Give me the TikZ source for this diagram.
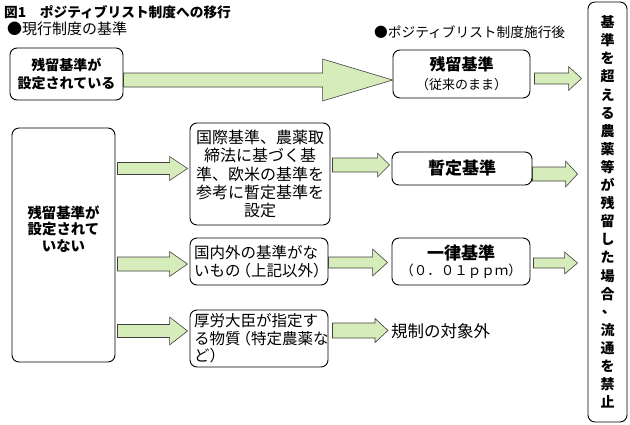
\documentclass[tikz,border=0pt]{standalone}
\usepackage{fontspec}
\setmainfont{Noto Sans CJK JP}
\usetikzlibrary{calc}
\definecolor{arrowgreen}{RGB}{214,236,186}
\newcommand\blockarr[5]{\draw[blockarrow] let \p1=(#1), \p2=(#2) in (\x1,\y1+#3) -- (\x2-#5,\y1+#3) -- (\x2-#5,\y1+#4) -- (\x2,\y1) -- (\x2-#5,\y1-#4) -- (\x2-#5,\y1-#3) -- (\x1,\y1-#3) -- cycle;}
\newcommand\LP{\kern-5pt（}
\newcommand\RP{）\kern-5pt}
\newcommand\SLP{\kern-3pt（}
\newcommand\SRP{）\kern-3pt}
\begin{document}
\begin{tikzpicture}[x=1pt,y=-1pt,
  box/.style={draw, line width=0.9pt, rounded corners=7pt, inner sep=0pt, align=center},
  plain/.style={inner sep=0pt},
  blockarrow/.style={fill=arrowgreen, draw=black!75, line width=0.6pt, line join=miter}]
\useasboundingbox (0,0) rectangle (630,424);
% headings
\node[plain, anchor=west, font=\bfseries\fontsize{13.7pt}{16pt}\selectfont] (title) at (4,12) {図1　ポジティブリスト制度への移行};
\node[plain, anchor=west, font=\fontsize{15pt}{17pt}\selectfont] (cur) at (7,29) {●現行制度の基準};
\node[plain, anchor=west, font=\fontsize{13.7pt}{16pt}\selectfont] (post) at (374,32) {●ポジティブリスト制度施行後};
% boxes
\node[box, minimum width=113pt, minimum height=52pt, font=\bfseries\fontsize{14pt}{18pt}\selectfont] (B1) at (66.5,74) {残留基準が\\設定されている};
\node[box, minimum width=137pt, minimum height=48pt, font=\fontsize{14pt}{19pt}\selectfont] (R1) at (461.5,74) {{\fontsize{16pt}{19pt}\selectfont\bfseries 残留基準}\\{\fontsize{13pt}{19pt}\selectfont \SLP 従来のまま\SRP}};
\node[box, minimum width=103pt, minimum height=234pt] (L) at (63.5,245) {};
\node[plain, align=center, font=\bfseries\fontsize{14.4pt}{16.3pt}\selectfont] (Ltext) at ($(L.center)+(0,-16)$) {残留基準が\\設定されて\\いない};
\node[box, minimum width=140pt, minimum height=102pt, font=\fontsize{16pt}{18.3pt}\selectfont] (A) at (260,174) {国際基準、農薬取\\締法に基づく基\\準、欧米の基準を\\参考に暫定基準を\\設定};
\node[box, minimum width=140pt, minimum height=33pt, font=\bfseries\fontsize{17pt}{20pt}\selectfont] (S) at (462,168.5) {暫定基準};
\node[box, minimum width=138pt, minimum height=47pt, align=left, text width=130pt, font=\fontsize{15.5pt}{18pt}\selectfont] (B) at (259,261.5) {国内外の基準がな\\いもの\LP 上記以外\RP};
\node[box, minimum width=138pt, minimum height=47pt, font=\fontsize{13.5pt}{16pt}\selectfont] (U) at (461,261.5) {{\fontsize{17pt}{16pt}\selectfont\bfseries 一律基準}\\（０．０１ｐｐｍ）};
\node[box, minimum width=138pt, minimum height=57pt, align=left, text width=130pt, font=\fontsize{15.5pt}{17.5pt}\selectfont] (C) at (259,338.5) {厚労大臣が指定す\\る物質\LP 特定農薬な\\ど\RP};
\node[plain, anchor=west, font=\fontsize{16.5pt}{18pt}\selectfont] (out) at (391,331) {規制の対象外};
\node[box, minimum width=39pt, minimum height=420pt, font=\bfseries\fontsize{14pt}{18.1pt}\selectfont] (RB) at (607.5,212) {基\\準\\を\\超\\え\\る\\農\\薬\\等\\が\\残\\留\\し\\た\\場\\合\\\raisebox{0.3em}{\kern0.2em、}\\流\\通\\を\\禁\\止};
% block arrows
\blockarr{$(B1.east)+(0,6)$}{R1.west}{7pt}{21pt}{70pt}
\blockarr{$(R1.east)+(4,4.5)$}{$(RB.west)+(-6,0)$}{5.5pt}{12pt}{13pt}
\blockarr{$(L.east)+(2,-76.5)$}{$(A.west)+(-2,0)$}{6pt}{12pt}{18pt}
\blockarr{$(A.east)+(2,-9)$}{$(S.west)+(-2,0)$}{7pt}{12pt}{12pt}
\blockarr{$(S.east)+(0,5.5)$}{$(RB.west)+(-10,0)$}{7pt}{13pt}{12pt}
\blockarr{$(L.east)+(2,19)$}{$(B.west)+(-2,0)$}{7pt}{12.5pt}{18pt}
\blockarr{$(B.east)+(0,1)$}{$(U.west)+(-4,0)$}{5.5pt}{13.5pt}{15pt}
\blockarr{$(U.east)+(3,1.5)$}{$(RB.west)+(-10,0)$}{5pt}{11pt}{13pt}
\blockarr{$(L.east)+(2,86)$}{$(C.west)+(-2,0)$}{6.5pt}{14pt}{18pt}
\blockarr{$(C.east)+(4,-8)$}{$(out.west)+(-3,0)$}{7.5pt}{12pt}{13pt}
\end{tikzpicture}
\end{document}
